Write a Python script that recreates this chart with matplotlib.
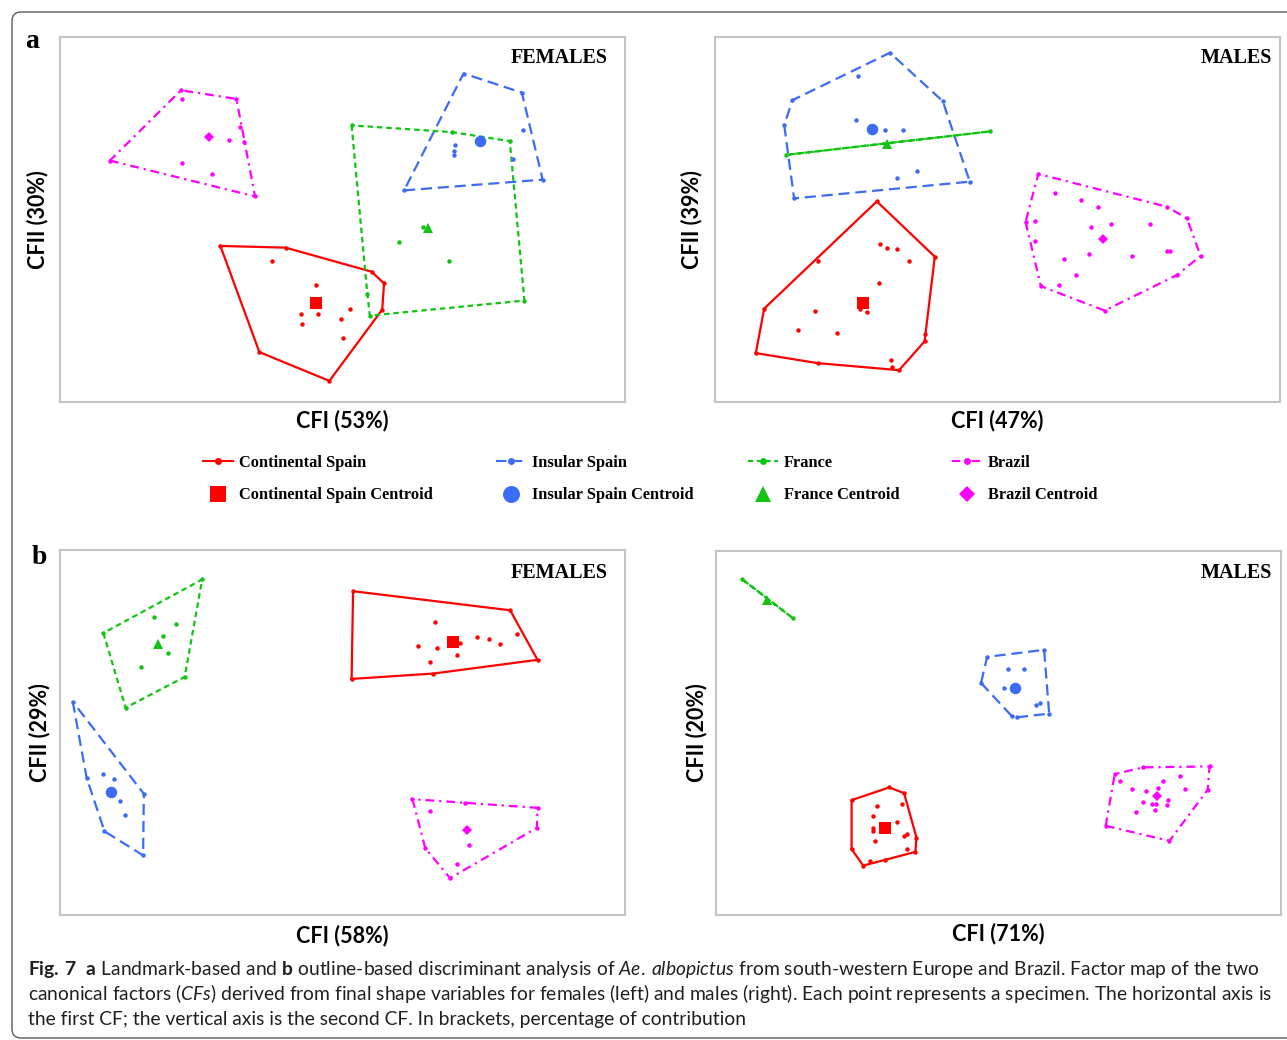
import matplotlib
matplotlib.use("Agg")
import matplotlib.pyplot as plt
import matplotlib.transforms as mtransforms
from matplotlib.lines import Line2D
from matplotlib.patches import FancyBboxPatch

plt.rcParams["mathtext.fontset"] = "custom"
plt.rcParams["mathtext.rm"] = "Lato"
plt.rcParams["mathtext.it"] = "Lato:italic"
plt.rcParams["mathtext.bf"] = "Lato:bold"

W, H, DPI = 1287, 1040, 100

GROUPS = ["Continental Spain", "Insular Spain", "France", "Brazil"]

# ---------------- (a) landmark-based, females: CF1 (53%) / CF2 (30%) ----------------
a_fem_cont_cf1 = [-3.35, -1.56, 0.80, 1.14, 1.09, -0.36, -2.28, -1.94, -0.73, 0.20, -1.15, -0.68, -0.03, -1.10, 0.02]
a_fem_cont_cf2 = [-0.79, -0.84, -1.56, -1.91, -2.69, -4.82, -3.96, -1.24, -1.96, -2.67, -2.82, -2.82, -2.97, -3.12, -3.53]
a_fem_cont_centroid = (-0.72, -2.48)
a_fem_ins_cf1 = [3.32, 4.92, 5.49, 1.69, 3.10, 3.07, 3.05, 4.95, 4.67]
a_fem_ins_cf2 = [4.36, 3.79, 1.19, 0.87, 2.21, 2.06, 1.94, 2.68, 1.81]
a_fem_ins_centroid = (3.77, 2.33)
a_fem_fra_cf1 = [0.25, 3.00, 4.59, 4.99, 0.75, 0.68, 2.20, 1.56, 2.91]
a_fem_fra_cf2 = [2.81, 2.61, 2.34, -2.42, -2.87, -2.21, -0.22, -0.68, -1.24]
a_fem_fra_centroid = (2.35, -0.24)
a_fem_bra_cf1 = [-4.43, -2.91, -2.40, -6.38, -4.41, -2.81, -2.70, -3.12, -4.41, -3.58]
a_fem_bra_cf2 = [3.86, 3.60, 0.69, 1.76, 3.60, 2.76, 2.31, 2.37, 1.70, 1.35]
a_fem_bra_centroid = (-3.67, 2.47)

# ---------------- (a) landmark-based, males: CF1 (47%) / CF2 (39%) ----------------
a_mal_cont_cf1 = [-3.31, -1.72, -2.00, -2.70, -4.93, -6.63, -6.40, -4.93, -2.00, -3.21, -3.03,
                  -2.76, -2.43, -3.26, -5.02, -5.48, -4.41, -3.78, -3.58, -2.93, -2.89]
a_mal_cont_cf2 = [0.54, -1.11, -3.64, -4.50, -4.29, -3.99, -2.66, -1.24, -3.42, -0.73, -0.84,
                  -0.89, -1.25, -1.91, -2.73, -3.29, -3.38, -2.66, -2.77, -4.20, -4.41]
a_mal_cont_centroid = (-3.69, -2.49)
a_mal_ins_cf1 = [-2.95, -1.50, -0.76, -5.58, -5.85, -5.63, -3.83, -3.88, -3.08, -2.58, -2.20, -2.76]
a_mal_ins_cf2 = [4.98, 3.53, 1.13, 0.63, 2.81, 3.56, 4.28, 2.98, 2.67, 2.67, 1.44, 1.25]
a_mal_ins_centroid = (-3.43, 2.69)
a_mal_fra_cf1 = [-5.80, -0.21]
a_mal_fra_cf2 = [1.93, 2.63]
a_mal_fra_centroid = (-3.03, 2.24)
a_mal_bra_cf1 = [1.12, 4.65, 5.20, 5.57, 4.92, 2.94, 1.19, 0.77, 1.59, 2.29, 2.75, 3.12,
                 4.19, 2.57, 1.04, 1.04, 1.82, 2.52, 3.68, 4.64, 4.72, 2.15, 1.69]
a_mal_bra_cf2 = [1.36, 0.38, 0.03, -1.09, -1.66, -2.72, -1.99, -0.07, 0.79, 0.58, 0.38, -0.13,
                 -0.13, -0.23, -0.03, -0.64, -1.19, -1.04, -1.10, -0.94, -0.94, -1.66, -1.96]
a_mal_bra_centroid = (2.90, -0.59)

# ---------------- (b) outline-based, females: CF1 (58%) / CF2 (29%) ----------------
b_fem_cont_cf1 = [0.29, 4.60, 5.35, 2.49, 0.25, 2.54, 2.07, 2.58, 3.23, 3.70, 4.03, 4.31, 4.78, 3.13, 2.40]
b_fem_cont_cf2 = [4.22, 3.65, 2.17, 1.76, 1.60, 3.29, 2.58, 2.53, 2.67, 2.84, 2.78, 2.63, 2.93, 2.32, 2.12]
b_fem_cont_centroid = (3.03, 2.71)
b_fem_ins_cf1 = [-7.40, -5.45, -5.47, -6.53, -7.02, -6.56, -6.28, -6.10, -5.96]
b_fem_ins_cf2 = [0.92, -1.83, -3.67, -2.95, -1.35, -1.24, -1.39, -2.05, -2.45]
b_fem_ins_centroid = (-6.35, -1.78)
b_fem_fra_cf1 = [-3.85, -4.33, -5.95, -6.56, -5.16, -4.56, -4.92, -4.79, -5.53]
b_fem_fra_cf2 = [4.57, 1.66, 0.74, 2.97, 3.44, 3.23, 2.88, 2.37, 1.97]
b_fem_fra_centroid = (-5.07, 2.65)
b_fem_bra_cf1 = [1.92, 5.35, 5.33, 2.95, 2.27, 3.37, 2.40, 3.47, 3.14]
b_fem_bra_cf2 = [-1.99, -2.25, -2.85, -4.35, -3.45, -2.12, -2.35, -3.37, -3.93]
b_fem_bra_centroid = (3.42, -2.92)

# ---------------- (b) outline-based, males: CF1 (71%) / CF2 (20%) ----------------
b_mal_cont_cf1 = [-3.00, -2.59, -2.25, -2.28, -3.71, -4.03, -4.03, -3.34, -3.45, -3.43,
                  -3.43, -2.79, -2.65, -2.60, -2.52, -3.38, -2.51, -3.53, -3.11]
b_mal_cont_cf2 = [-1.63, -1.80, -3.13, -3.56, -3.97, -3.48, -2.01, -2.20, -2.48, -2.83,
                  -2.93, -2.67, -2.12, -3.07, -3.02, -3.23, -3.48, -3.83, -3.79]
b_mal_cont_centroid = (-3.12, -2.85)
b_mal_ins_cf1 = [-0.31, 1.25, 1.39, 0.51, 0.37, -0.48, 0.27, 0.69, 0.14, 1.02, 1.15]
b_mal_ins_cf2 = [2.28, 2.49, 0.58, 0.47, 0.50, 1.50, 1.92, 1.92, 1.35, 0.85, 0.91]
b_mal_ins_centroid = (0.44, 1.35)
b_mal_fra_cf1 = [-7.04, -5.63]
b_mal_fra_cf2 = [4.61, 3.43]
b_mal_fra_centroid = (-6.34, 3.97)
b_mal_bra_cf1 = [3.19, 3.97, 5.79, 5.74, 4.69, 2.94, 3.32, 3.65, 4.06, 4.38, 4.52, 4.98,
                 5.12, 3.96, 4.22, 4.33, 4.65, 4.62, 4.29, 3.78]
b_mal_bra_cf2 = [-1.23, -1.03, -1.00, -1.70, -3.23, -2.78, -1.44, -1.69, -1.75, -1.65, -1.44, -1.29,
                 -1.69, -2.06, -2.12, -2.13, -2.00, -2.15, -2.30, -2.36]
b_mal_bra_centroid = (4.34, -1.90)

x_labels = ["CFI (53%)", "CFI (47%)", "CFI (58%)", "CFI (71%)"]
y_labels = ["CFII (30%)", "CFII (39%)", "CFII (29%)", "CFII (20%)"]
sex_titles = ["FEMALES", "MALES", "FEMALES", "MALES"]
panel_letters = ["a", "b"]

PANELS = [
    {
        "Continental Spain": (a_fem_cont_cf1, a_fem_cont_cf2, a_fem_cont_centroid),
        "Insular Spain": (a_fem_ins_cf1, a_fem_ins_cf2, a_fem_ins_centroid),
        "France": (a_fem_fra_cf1, a_fem_fra_cf2, a_fem_fra_centroid),
        "Brazil": (a_fem_bra_cf1, a_fem_bra_cf2, a_fem_bra_centroid),
    },
    {
        "Continental Spain": (a_mal_cont_cf1, a_mal_cont_cf2, a_mal_cont_centroid),
        "Insular Spain": (a_mal_ins_cf1, a_mal_ins_cf2, a_mal_ins_centroid),
        "France": (a_mal_fra_cf1, a_mal_fra_cf2, a_mal_fra_centroid),
        "Brazil": (a_mal_bra_cf1, a_mal_bra_cf2, a_mal_bra_centroid),
    },
    {
        "Continental Spain": (b_fem_cont_cf1, b_fem_cont_cf2, b_fem_cont_centroid),
        "Insular Spain": (b_fem_ins_cf1, b_fem_ins_cf2, b_fem_ins_centroid),
        "France": (b_fem_fra_cf1, b_fem_fra_cf2, b_fem_fra_centroid),
        "Brazil": (b_fem_bra_cf1, b_fem_bra_cf2, b_fem_bra_centroid),
    },
    {
        "Continental Spain": (b_mal_cont_cf1, b_mal_cont_cf2, b_mal_cont_centroid),
        "Insular Spain": (b_mal_ins_cf1, b_mal_ins_cf2, b_mal_ins_centroid),
        "France": (b_mal_fra_cf1, b_mal_fra_cf2, b_mal_fra_centroid),
        "Brazil": (b_mal_bra_cf1, b_mal_bra_cf2, b_mal_bra_centroid),
    },
]

STYLE = {
    "Continental Spain": dict(color="#ff0000", ls="-", cmarker="s", cms=8.6, lcms=12.2),
    "Insular Spain": dict(color="#3c6cf5", ls=(0, (5.0, 2.6)), cmarker="o", cms=8.3, lcms=12.2),
    "France": dict(color="#12c412", ls=(0, (2.5, 1.7)), cmarker="^", cms=7.2, lcms=11.5),
    "Brazil": dict(color="#ff00ff", ls=(0, (4.0, 2.2, 1.0, 2.2)), cmarker="D", cms=5.0, lcms=8.2),
}


def convex_hull(xs, ys):
    """Monotone-chain convex hull, returned counter-clockwise."""
    pts = sorted(set(zip(xs, ys)))
    if len(pts) <= 2:
        return pts

    def cross(o, a, b):
        return (a[0] - o[0]) * (b[1] - o[1]) - (a[1] - o[1]) * (b[0] - o[0])

    lower, upper = [], []
    for p in pts:
        while len(lower) >= 2 and cross(lower[-2], lower[-1], p) <= 0:
            lower.pop()
        lower.append(p)
    for p in reversed(pts):
        while len(upper) >= 2 and cross(upper[-2], upper[-1], p) <= 0:
            upper.pop()
        upper.append(p)
    return lower[:-1] + upper[:-1]


fig = plt.figure(figsize=(W / DPI, H / DPI), dpi=DPI)
fig.patch.set_facecolor("white")
# pixel coordinates, origin at the top-left corner of the figure
pix = mtransforms.Affine2D().scale(1 / W, -1 / H).translate(0, 1) + fig.transFigure

# rounded outer frame of the figure box
frame = FancyBboxPatch((0.12, 0.02), 12.95, 10.26, boxstyle="round,pad=0,rounding_size=0.09",
                       transform=fig.dpi_scale_trans, fill=False, ec="#5a5a5a", lw=1.0)
fig.add_artist(frame)

# axes boxes (left, top, right, bottom) in pixels
boxes = [(60, 37, 625, 402), (715, 37, 1280, 402), (60, 550, 625, 915), (716, 551, 1281, 915)]
xlab_offsets = [19, 19, 21, 19]
ylab_offsets = [22, 23, 20, 19]
title_offsets = [(17, 21), (8, 21), (17, 23), (9, 22)]

for i, (l, t, r, b) in enumerate(boxes):
    ax = fig.add_axes([l / W, 1 - b / H, (r - l) / W, (b - t) / H])
    ax.set_xlim(-7.75, 7.75)
    ax.set_ylim(-5.45, 5.45)
    ax.set_xticks([])
    ax.set_yticks([])
    for sp in ax.spines.values():
        sp.set_color("#c4c4c4")
        sp.set_linewidth(1.5)

    for name in GROUPS:
        cf1, cf2, cen = PANELS[i][name]
        st = STYLE[name]
        hull = convex_hull(cf1, cf2)
        hx = [p[0] for p in hull] + [hull[0][0]]
        hy = [p[1] for p in hull] + [hull[0][1]]
        ax.plot(hx, hy, color=st["color"], ls=st["ls"], lw=1.6, zorder=2)
        ax.plot(cf1, cf2, ls="none", marker="o", ms=3.2, mew=0, color=st["color"], zorder=3)
        ax.plot([cen[0]], [cen[1]], ls="none", marker=st["cmarker"], ms=st["cms"], mew=0,
                color=st["color"], zorder=4)

    dx, dy = title_offsets[i]
    fig.text(r - dx, t + dy, sex_titles[i], transform=pix, ha="right", va="center",
             family="Liberation Serif", weight="bold", fontsize=14.5, color="black")
    fig.text((l + r) / 2, b + xlab_offsets[i], x_labels[i], transform=pix, ha="center",
             va="center", family="Lato", weight="bold", fontsize=15.5, color="black")
    fig.text(l - ylab_offsets[i], (t + b) / 2, y_labels[i], transform=pix, ha="center",
             va="center", rotation=90, family="Lato", weight="bold", fontsize=15.5, color="black")

fig.text(32, 42, panel_letters[0], transform=pix, ha="center", va="center",
         family="Liberation Serif", weight="bold", fontsize=20)
fig.text(39, 557, panel_letters[1], transform=pix, ha="center", va="center",
         family="Liberation Serif", weight="bold", fontsize=20)

# legend: one column per population (group outline above, centroid below)
legend_x = [203, 496, 748, 952]
for x0, name in zip(legend_x, GROUPS):
    st = STYLE[name]
    h_line = Line2D([], [], color=st["color"], ls=st["ls"], lw=1.5, marker="o", ms=5, mew=0)
    h_cen = Line2D([], [], color=st["color"], ls="none", marker=st["cmarker"], ms=st["lcms"], mew=0)
    fig.legend([h_line, h_cen], [name, name + " Centroid"], loc="center left",
               bbox_to_anchor=(x0, 479), bbox_transform=pix, frameon=False,
               borderpad=0, borderaxespad=0, handlelength=1.8, handletextpad=0.4,
               labelspacing=1.02, numpoints=1,
               prop=dict(family="Liberation Serif", weight="bold", size=11.8))

# caption
caption = [
    r"$\mathbf{Fig.\:7}$  $\mathbf{a}$ Landmark-based and $\mathbf{b}$ outline-based "
    r"discriminant analysis of $\mathit{Ae.\:albopictus}$ from south-western Europe "
    r"and Brazil. Factor map of the two",
    r"canonical factors ($\mathit{CFs}$) derived from final shape variables for females (left) "
    r"and males (right). Each point represents a specimen. The horizontal axis is",
    r"the first CF; the vertical axis is the second CF. In brackets, percentage of contribution",
]
baselines = [975, 1000, 1025]
renderer = fig.canvas.get_renderer()
probe = fig.text(28, baselines[0], caption[0], transform=pix, va="baseline", family="Lato",
                 fontsize=14, color="#231f20")
width = probe.get_window_extent(renderer).width
cap_size = 14 * 1237 / width
probe.remove()
for line, yb in zip(caption, baselines):
    fig.text(28, yb, line, transform=pix, va="baseline", family="Lato",
             fontsize=cap_size, color="#231f20")

fig.savefig("out.png", dpi=DPI, facecolor="white")
